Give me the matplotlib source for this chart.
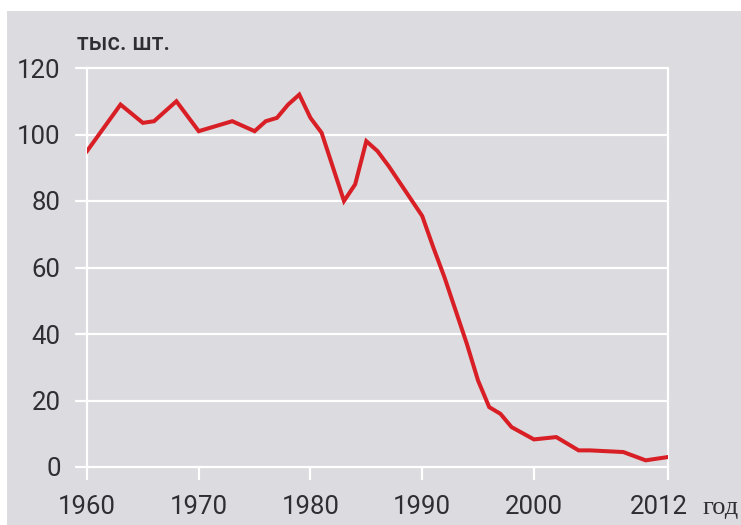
import matplotlib
matplotlib.use("Agg")
import matplotlib.pyplot as plt
from matplotlib.patches import Rectangle
from matplotlib.transforms import ScaledTranslation

# production, thousand units
years = [1960, 1963, 1965, 1966, 1968, 1970, 1973, 1975, 1976, 1977, 1978, 1979,
         1980, 1981, 1983, 1984, 1985, 1986, 1987, 1988, 1989, 1990,
         1991, 1992, 1993, 1994, 1995, 1996, 1997, 1998, 2000, 2002,
         2004, 2005, 2008, 2010, 2012]
values = [95, 109, 103.5, 104, 110, 101, 104, 101, 104, 105, 109, 112,
          105, 100.5, 80, 85, 98, 95, 90.5, 85.5, 80.5, 75.5,
          66, 57, 47, 37, 26, 18, 16, 12, 8.3, 9,
          5, 5, 4.5, 2, 3]

x_ticks = [1960, 1970, 1980, 1990, 2000, 2012]
y_ticks = [0, 20, 40, 60, 80, 100, 120]
y_unit = "тыс. шт."
x_unit = "год"

W, H = 741, 525
bg = "#dcdce0"
txt = "#2f2f33"
sans = ["Roboto", "DejaVu Sans"]

fig = plt.figure(figsize=(W / 100, H / 100), dpi=100)
fig.patch.set_facecolor("white")
fig.patches.append(Rectangle((7 / W, 0), 1, (H - 11) / H, transform=fig.transFigure,
                             facecolor=bg, edgecolor="none", zorder=-10))

ax = fig.add_axes([87 / W, (H - 467) / H, (668 - 87) / W, (467 - 68) / H])
ax.set_facecolor("none")
ax.set_xlim(1960, 2012)
ax.set_ylim(0, 120)
for s in ax.spines.values():
    s.set_visible(False)

# white grid
px_year = (668 - 87) / 52.0
for v in y_ticks:
    ax.plot([1960 - 12 / px_year, 2012], [v, v], color="white", lw=1.6,
            clip_on=False, zorder=1, solid_capstyle="butt")
for x in (1960, 2012):
    ax.plot([x, x], [0, 120], color="white", lw=1.6, clip_on=False, zorder=1)

ax.plot(years, values, color="#d91f26", lw=2.9, zorder=3,
        solid_joinstyle="miter")

ax.set_yticks(y_ticks)
ax.set_yticklabels([str(v) for v in y_ticks], fontsize=18.5, family=sans, color=txt)
ax.tick_params(axis="y", length=0, pad=19)

ax.set_xticks(x_ticks)
ax.set_xticklabels([str(v) for v in x_ticks], fontsize=18.5, family=sans, color=txt)
ax.tick_params(axis="x", length=9, width=1.6, color="white", pad=11)
last = ax.get_xticklabels()[-1]
last.set_transform(last.get_transform() + ScaledTranslation(-0.09, 0, fig.dpi_scale_trans))

fig.text(77 / W, 1 - 50 / H, y_unit, fontsize=17, family=sans, fontweight="medium",
         color=txt, ha="left", va="baseline")
fig.text(702 / W, 1 - 514 / H, x_unit, fontsize=19, family=["Liberation Serif", "DejaVu Serif"],
         color=txt, ha="left", va="baseline")

fig.savefig("out.png", dpi=100)
